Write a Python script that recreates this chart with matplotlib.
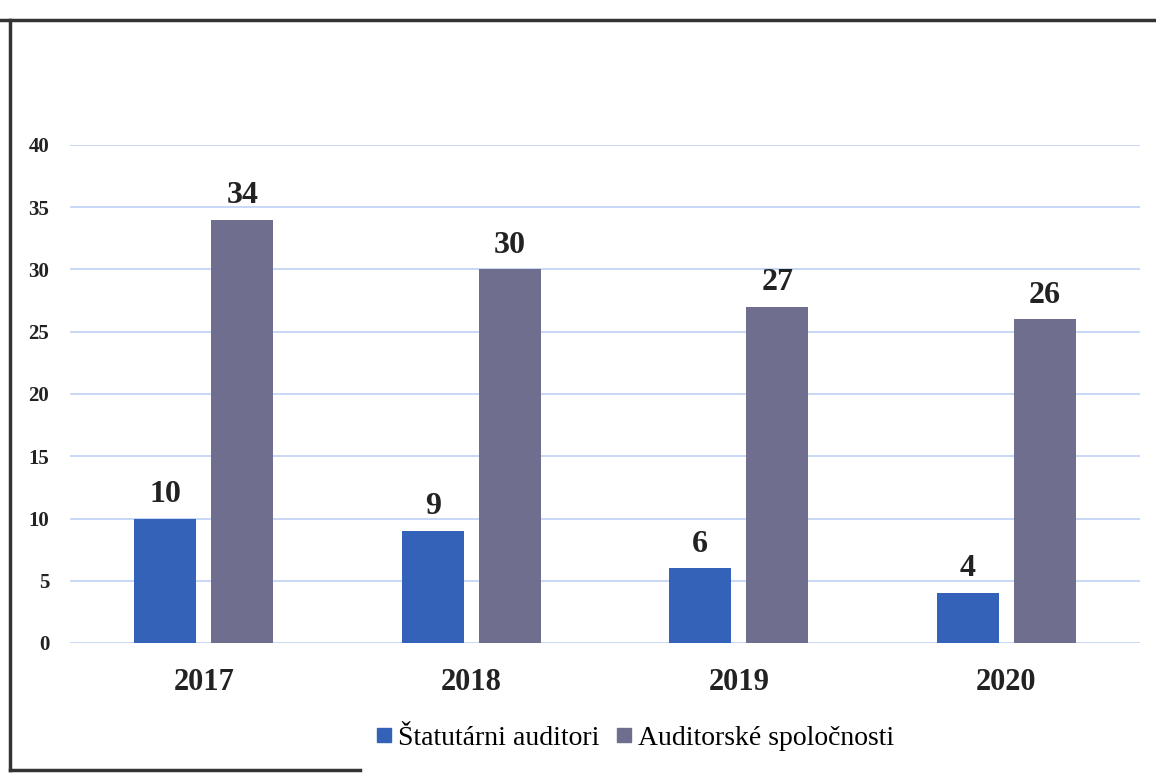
import matplotlib.pyplot as plt
import numpy as np
from matplotlib.lines import Line2D

years = ['2017', '2018', '2019', '2020']
statutarni = [10, 9, 6, 4]
spolocnosti = [34, 30, 27, 26]
series_names = ['Štatutárni auditori', 'Auditorské spoločnosti']
yticks = [0, 5, 10, 15, 20, 25, 30, 35, 40]

plt.rcParams['font.family'] = ['Liberation Serif', 'DejaVu Serif']

fig = plt.figure(figsize=(11.56, 7.73), dpi=100)
ax = fig.add_axes([70/1156, 1 - 643/773, 1070/1156, 498/773])

x = np.arange(len(years))
w = 0.232
off = 0.144
blue = '#3562B9'
gray = '#6F6E8E'

b1 = ax.bar(x - off, statutarni, w, color=blue, zorder=3)
b2 = ax.bar(x + off, spolocnosti, w, color=gray, zorder=3)
ax.bar_label(b1, padding=7, fontsize=23, fontweight='bold', color='#222222')
ax.bar_label(b2, padding=7, fontsize=23, fontweight='bold', color='#222222')

ax.set_xlim(-0.5, 3.5)
ax.set_ylim(0, 40)
ax.set_yticks(yticks)
ax.set_yticklabels([str(t) for t in yticks], fontsize=15, fontweight='bold', color='#222222')
ax.set_xticks(x)
ax.set_xticklabels(years, fontsize=22, fontweight='bold', color='#222222')
ax.tick_params(axis='x', length=0, pad=18)
ax.tick_params(axis='y', length=0, pad=15)
ax.grid(axis='y', color='#C4D5F5', linewidth=1.3, zorder=0)
for s in ax.spines.values():
    s.set_visible(False)

handles = [Line2D([], [], marker='s', linestyle='', color=blue, markersize=10),
           Line2D([], [], marker='s', linestyle='', color=gray, markersize=10)]
fig.legend(handles, series_names, loc='center', bbox_to_anchor=(0.547, 1 - 738/773),
           ncol=2, frameon=False, fontsize=20, handletextpad=0.0, columnspacing=0.4,
           handlelength=1.0)

# scanned frame around the chart
fig.add_artist(Line2D([0, 1], [1 - 20/773, 1 - 20/773], transform=fig.transFigure, color='#333333', lw=2.5))
fig.add_artist(Line2D([10/1156, 10/1156], [1 - 20/773, 1 - 770/773], transform=fig.transFigure, color='#333333', lw=2.5))
fig.add_artist(Line2D([10/1156, 360/1156], [1 - 770/773, 1 - 770/773], transform=fig.transFigure, color='#333333', lw=2.5))

fig.savefig('out.png', dpi=100)
